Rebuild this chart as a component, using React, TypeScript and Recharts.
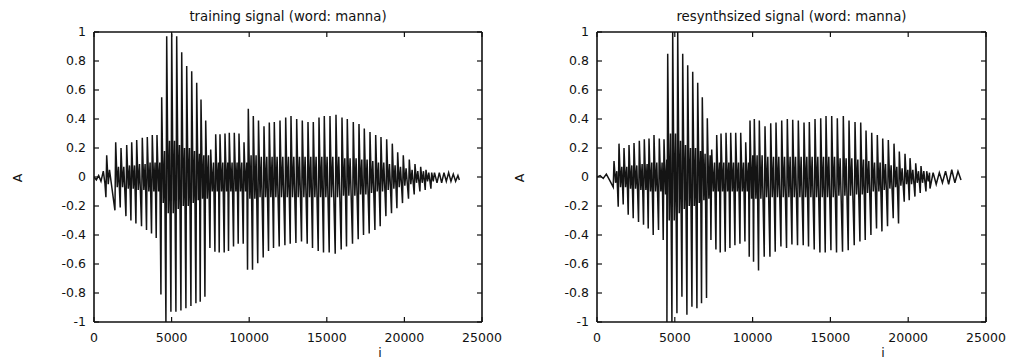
import React from 'react';
import { LineChart, Line, XAxis, YAxis } from 'recharts';

const xTicks = [0, 5000, 10000, 15000, 20000, 25000];
const yTicks = [-1, -0.8, -0.6, -0.4, -0.2, 0, 0.2, 0.4, 0.6, 0.8, 1];

// ---------- training signal ----------
const trainHeadI = [0, 150, 300, 450, 600, 700];
const trainHeadA = [0, -0.02, 0.01, -0.03, 0.04, -0.04];
const trainStrokeI = [
  818, 1398, 1740, 2107, 2429, 2751, 3112, 3434, 3756, 4059,
  4362, 4684, 5006, 5328, 5651, 5973, 6295, 6617, 6894, 7197,
  7519, 7841, 8118, 8440, 8717, 9040, 9342, 9665,
  9942, 10264, 10599, 10953, 11295, 11617, 11984, 12351, 12693, 13060,
  13421, 13788, 14130, 14497, 14838, 15205, 15592, 15979, 16320, 16707,
  17074, 17416, 17783, 18150, 18491, 18858, 19220, 19567, 19928, 20315,
  20682, 21049, 21391, 21758,
];
const trainUp = [
  0.15, 0.24, 0.2, 0.22, 0.24, 0.255, 0.27, 0.275, 0.29, 0.29,
  0.55, 0.97, 0.99, 0.97, 0.86, 0.765, 0.73, 0.65, 0.535, 0.39,
  0.19, 0.295, 0.295, 0.3, 0.305, 0.305, 0.3, 0.24,
  0.47, 0.42, 0.39, 0.35, 0.375, 0.38, 0.39, 0.41, 0.42, 0.4,
  0.39, 0.38, 0.38, 0.41, 0.42, 0.42, 0.43, 0.41, 0.4, 0.38,
  0.365, 0.335, 0.31, 0.29, 0.275, 0.26, 0.23, 0.17, 0.15, 0.12,
  0.09, 0.07, 0.05, 0.03,
];
const trainLo = [
  -0.14, -0.23, -0.21, -0.27, -0.3, -0.32, -0.34, -0.365, -0.39, -0.42,
  -0.81, -1.0, -0.93, -0.93, -0.92, -0.905, -0.89, -0.87, -0.86, -0.825,
  -0.49, -0.515, -0.52, -0.52, -0.51, -0.48, -0.46, -0.46,
  -0.64, -0.64, -0.595, -0.555, -0.51, -0.49, -0.48, -0.47, -0.46, -0.455,
  -0.445, -0.46, -0.49, -0.51, -0.52, -0.52, -0.53, -0.5, -0.48, -0.46,
  -0.43, -0.4, -0.39, -0.365, -0.34, -0.27, -0.25, -0.215, -0.18, -0.15,
  -0.12, -0.1, -0.09, -0.08,
];
const trainRing = [
  0.05, 0.07, 0.07, 0.08, 0.08, 0.09, 0.09, 0.1, 0.1, 0.1,
  0.18, 0.25, 0.25, 0.22, 0.2, 0.2, 0.18, 0.16, 0.15, 0.15,
  0.1, 0.1, 0.1, 0.1, 0.1, 0.1, 0.1, 0.1,
  0.15, 0.15, 0.14, 0.14, 0.14, 0.14, 0.14, 0.14, 0.14, 0.14,
  0.14, 0.14, 0.14, 0.14, 0.14, 0.14, 0.14, 0.13, 0.13, 0.13,
  0.12, 0.12, 0.11, 0.1, 0.1, 0.09, 0.08, 0.07, 0.06, 0.05,
  0.04, 0.04, 0.03, 0.03,
];
const trainTailI = [22100, 22250, 22400, 22550, 22700, 22850, 23000, 23150, 23300, 23450, 23540];
const trainTailA = [-0.04, 0.03, -0.04, 0.03, -0.03, 0.03, -0.03, 0.02, -0.03, 0.01, -0.02];

// ---------- resynthesized signal ----------
const resHeadI = [0, 200, 400, 600, 800];
const resHeadA = [0, 0.01, -0.01, 0.02, -0.02];
const resStrokeI = [
  1093, 1414, 1735, 2057, 2378, 2719, 3040, 3342, 3663, 4004, 4306,
  4544, 4865, 5187, 5508, 5829, 6151, 6472, 6767, 7089,
  7372, 7693, 7969, 8291, 8593, 8914, 9236, 9557,
  9833, 10110, 10431,
  10797, 11164, 11504, 11871, 12231, 12578, 12938, 13304, 13645, 14011,
  14377, 14718, 15084, 15444, 15830, 16196, 16582, 16948, 17289, 17655,
  18015, 18362, 18722, 19088, 19429, 19795, 20117, 20483, 20823, 21190,
];
const resUp = [
  0.11, 0.23, 0.2, 0.22, 0.235, 0.25, 0.26, 0.265, 0.29, 0.265, 0.26,
  0.85, 1.0, 1.0, 0.85, 0.77, 0.725, 0.65, 0.55, 0.405,
  0.19, 0.29, 0.3, 0.305, 0.305, 0.305, 0.305, 0.24,
  0.39, 0.4, 0.39,
  0.35, 0.37, 0.375, 0.39, 0.4, 0.395, 0.39, 0.375, 0.38, 0.4,
  0.405, 0.42, 0.42, 0.405, 0.42, 0.39, 0.38, 0.375, 0.32, 0.305,
  0.29, 0.265, 0.255, 0.23, 0.175, 0.16, 0.13, 0.095, 0.075, 0.04,
];
const resLo = [
  -0.07, -0.205, -0.19, -0.26, -0.285, -0.31, -0.33, -0.355, -0.4, -0.365, -0.435,
  -1.0, -1.0, -0.94, -0.825, -0.95, -0.895, -0.905, -0.87, -0.835,
  -0.435, -0.5, -0.52, -0.515, -0.49, -0.47, -0.46, -0.445,
  -0.55, -0.585, -0.645,
  -0.55, -0.55, -0.515, -0.48, -0.49, -0.465, -0.47, -0.47, -0.48, -0.5,
  -0.52, -0.52, -0.505, -0.52, -0.515, -0.505, -0.47, -0.445, -0.435, -0.4,
  -0.355, -0.375, -0.34, -0.285, -0.32, -0.17, -0.16, -0.135, -0.11, -0.1,
];
const resRing = [
  0.04, 0.07, 0.07, 0.08, 0.08, 0.09, 0.09, 0.1, 0.1, 0.1, 0.12,
  0.3, 0.3, 0.25, 0.22, 0.2, 0.2, 0.18, 0.16, 0.15,
  0.1, 0.1, 0.1, 0.1, 0.1, 0.1, 0.1, 0.1,
  0.15, 0.15, 0.15,
  0.14, 0.14, 0.14, 0.14, 0.14, 0.14, 0.14, 0.14, 0.14, 0.14,
  0.14, 0.14, 0.14, 0.13, 0.13, 0.13, 0.12, 0.12, 0.11, 0.1,
  0.1, 0.09, 0.08, 0.07, 0.06, 0.05, 0.05, 0.04, 0.04, 0.03,
];
const resTailI = [21402, 21600, 21800, 22000, 22200, 22400, 22600, 22800, 23000, 23200, 23394];
const resTailA = [-0.08, 0.03, -0.05, 0.03, -0.04, 0.04, -0.05, 0.05, -0.04, 0.04, -0.02];

type Pt = { i: number; A: number };

function buildWave(
  headI: number[], headA: number[],
  strokeI: number[], up: number[], lo: number[], ring: number[],
  tailI: number[], tailA: number[],
): Pt[] {
  const pts: Pt[] = [];
  headI.forEach((i, k) => pts.push({ i, A: headA[k] }));
  strokeI.forEach((p, k) => {
    pts.push({ i: p - 50, A: lo[k] });
    pts.push({ i: p, A: up[k] });
    pts.push({ i: p + 100, A: -ring[k] });
    pts.push({ i: p + 180, A: ring[k] });
  });
  tailI.forEach((i, k) => pts.push({ i, A: tailA[k] }));
  return pts;
}

const trainData = buildWave(trainHeadI, trainHeadA, trainStrokeI, trainUp, trainLo, trainRing, trainTailI, trainTailA);
const resData = buildWave(resHeadI, resHeadA, resStrokeI, resUp, resLo, resRing, resTailI, resTailA);

const FONT = '"DejaVu Sans", "Liberation Sans", Arial, sans-serif';
const tickStyle = { fontSize: 12.5, fill: '#111', fontFamily: FONT };
const axisLine = { stroke: '#111', strokeWidth: 1.6 };
const tickLine = { stroke: '#111', strokeWidth: 1.2 };

function Panel({ data, left, width, margin }: { data: Pt[]; left: number; width: number; margin: any }) {
  return (
    <div style={{ position: 'absolute', left, top: 0 }}>
      <LineChart width={width} height={360} data={data} margin={margin}>
        <XAxis
          xAxisId="b" type="number" dataKey="i" domain={[0, 25000]} ticks={xTicks}
          orientation="bottom" height={30} tickSize={-5} tickMargin={16}
          tick={tickStyle} axisLine={axisLine} tickLine={tickLine} allowDataOverflow interval={0}
        />
        <XAxis
          xAxisId="t" type="number" dataKey="i" domain={[0, 25000]} ticks={xTicks}
          orientation="top" height={10} tickSize={-5} tickFormatter={() => ''}
          tick={tickStyle} axisLine={axisLine} tickLine={tickLine} allowDataOverflow interval={0}
        />
        <YAxis
          yAxisId="l" type="number" domain={[-1, 1]} ticks={yTicks} orientation="left"
          width={60} tickSize={-5} tickMargin={13} tick={tickStyle}
          axisLine={axisLine} tickLine={tickLine} allowDataOverflow interval={0}
        />
        <YAxis
          yAxisId="r" type="number" domain={[-1, 1]} ticks={yTicks} orientation="right"
          width={10} tickSize={-5} tickFormatter={() => ''} tick={tickStyle}
          axisLine={axisLine} tickLine={tickLine} allowDataOverflow interval={0}
        />
        <Line
          xAxisId="b" yAxisId="l" type="linear" dataKey="A" stroke="#141414"
          strokeWidth={1.5} dot={false} isAnimationActive={false}
        />
      </LineChart>
    </div>
  );
}

export default function App() {
  return (
    <div style={{ position: 'absolute', left: 0, top: 0, width: 1009, height: 360, background: '#fff', overflow: 'hidden' }}>
      <Panel data={trainData} left={0} width={525} margin={{ top: 22, right: 33, bottom: 8, left: 34 }} />
      <Panel data={resData} left={500} width={509} margin={{ top: 22, right: 13, bottom: 8, left: 37 }} />
      <svg width={1009} height={360} style={{ position: 'absolute', left: 0, top: 0, pointerEvents: 'none' }}>
        <g fontFamily={FONT} fill="#111">
          <text x={288} y={21} fontSize={13.3} textAnchor="middle">training signal (word: manna)</text>
          <text x={791.5} y={21} fontSize={13.3} textAnchor="middle">resynthsized signal (word: manna)</text>
          <text x={17} y={178} fontSize={12.5} textAnchor="middle" dominantBaseline="central" transform="rotate(-90 17 178)">A</text>
          <text x={519.5} y={178} fontSize={12.5} textAnchor="middle" dominantBaseline="central" transform="rotate(-90 519.5 178)">A</text>
          <text x={380} y={357} fontSize={12.5} textAnchor="middle">i</text>
          <text x={883} y={357} fontSize={12.5} textAnchor="middle">i</text>
        </g>
      </svg>
    </div>
  );
}
